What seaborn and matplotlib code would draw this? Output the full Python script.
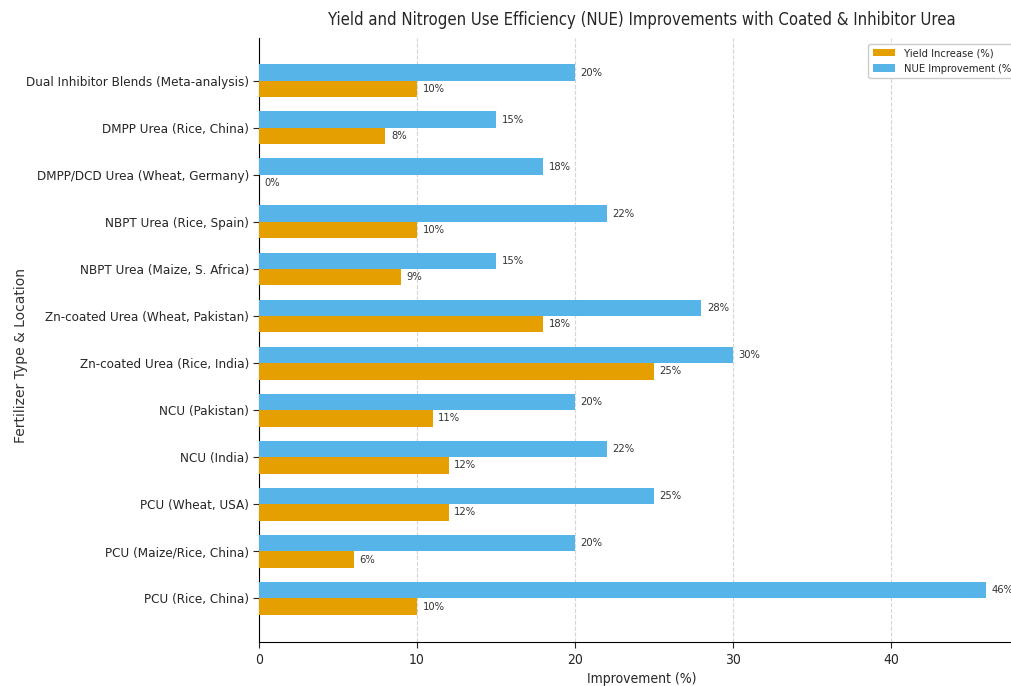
import pandas as pd
import matplotlib.pyplot as plt
import seaborn as sns

# Data (top to bottom as shown in the chart)
categories = [
    "Dual Inhibitor Blends (Meta-analysis)",
    "DMPP Urea (Rice, China)",
    "DMPP/DCD Urea (Wheat, Germany)",
    "NBPT Urea (Rice, Spain)",
    "NBPT Urea (Maize, S. Africa)",
    "Zn-coated Urea (Wheat, Pakistan)",
    "Zn-coated Urea (Rice, India)",
    "NCU (Pakistan)",
    "NCU (India)",
    "PCU (Wheat, USA)",
    "PCU (Maize/Rice, China)",
    "PCU (Rice, China)",
]
yield_increase = [10, 8, 0, 10, 9, 18, 25, 11, 12, 12, 6, 10]
nue_improvement = [20, 15, 18, 22, 15, 28, 30, 20, 22, 25, 20, 46]

df = pd.DataFrame({
    "category": categories * 2,
    "value": nue_improvement + yield_increase,
    "metric": ["NUE Improvement (%)"] * len(categories) + ["Yield Increase (%)"] * len(categories),
})

sns.set_style("white")
plt.rcParams["font.family"] = ["DejaVu Sans"]
plt.rcParams["font.stretch"] = "condensed"

fig = plt.figure(figsize=(10.12, 6.86), dpi=100)
ax = fig.add_axes([0.256, 0.064, 0.757, 0.88])

palette = {"Yield Increase (%)": "#E69F00", "NUE Improvement (%)": "#56B4E9"}
sns.barplot(data=df, y="category", x="value", hue="metric",
            hue_order=["NUE Improvement (%)", "Yield Increase (%)"],
            order=categories, palette=palette, orient="h", width=0.7,
            saturation=1, linewidth=0, ax=ax, zorder=3)

for cont in ax.containers:
    ax.bar_label(cont, fmt="%g%%", padding=4, fontsize=8, color="#333333")

ax.set_xlim(0, 48.5)
ax.set_ylim(11.93, -0.9)
ax.grid(axis="x", linestyle="--", color="#d5d5d5", linewidth=0.8, zorder=0)
ax.grid(axis="y", visible=False)
sns.despine(ax=ax)
ax.spines["left"].set_color("black")
ax.spines["bottom"].set_color("black")
ax.tick_params(axis="y", length=4, labelsize=9.6, left=True, pad=3)
ax.tick_params(axis="x", length=4, labelsize=10, bottom=True)

ax.set_title("Yield and Nitrogen Use Efficiency (NUE) Improvements with Coated & Inhibitor Urea",
             fontsize=12, pad=10)
ax.set_xlabel("Improvement (%)", fontsize=10)
ax.set_ylabel("Fertilizer Type & Location", fontsize=10, fontstretch="normal", color="#333333")
ax.yaxis.set_label_coords(-0.302, 0.475)

handles, labels = ax.get_legend_handles_labels()
ax.legend([handles[1], handles[0]], [labels[1], labels[0]], loc="upper right",
          fontsize=8, frameon=True, framealpha=1, edgecolor="#cccccc")

fig.savefig("out.png", dpi=100)
